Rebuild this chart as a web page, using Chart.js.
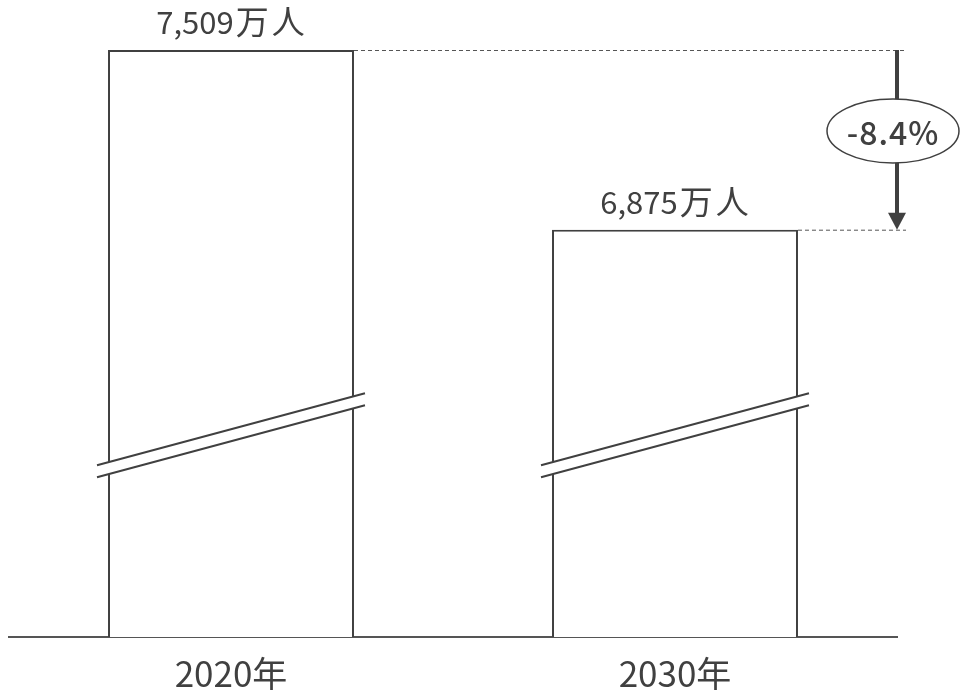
<!DOCTYPE html>
<html>
<head>
<meta charset="utf-8">
<script src="https://cdn.jsdelivr.net/npm/chart.js@4/dist/chart.umd.min.js"></script>
<style>
  html, body { margin: 0; padding: 0; background: #fff; }
  #wrap { width: 964px; height: 693px; }
</style>
</head>
<body>
<div id="wrap"><canvas id="chart"></canvas></div>
<script>
// data
var years = ["2020年", "2030年"];
var population = [7509, 6875]; // 万人
var valueLabels = ["7,509", "6,875"];
var unit = "万人";

var axisMin = 5438;   // broken axis, bars don't start at 0
var breakAt = 6171;   // where the break mark sits on the axis

var ink = "#404040";
var font = "'Noto Sans CJK JP', 'Noto Sans', sans-serif";

// draws labels, broken-axis marks, dashed guides, arrow and the change bubble
var decorations = {
  id: "decorations",
  afterDatasetsDraw: function(chart) {
    var ctx = chart.ctx;
    var area = chart.chartArea;
    var yScale = chart.scales.y;
    var xScale = chart.scales.x;
    var bars = chart.getDatasetMeta(0).data;
    ctx.save();

    // value labels over the bars (number + unit, unit set a bit wider)
    ctx.fillStyle = ink;
    ctx.textBaseline = "alphabetic";
    ctx.textAlign = "left";
    for (var i = 0; i < bars.length; i++) {
      ctx.font = "31px " + font;
      ctx.letterSpacing = "0px";
      var wNum = ctx.measureText(valueLabels[i]).width;
      ctx.font = "33px " + font;
      ctx.letterSpacing = "3px";
      var wUnit = ctx.measureText(unit).width;
      var x0 = bars[i].x - (wNum + wUnit) / 2;
      var yText = bars[i].y - 16;
      ctx.font = "31px " + font;
      ctx.letterSpacing = "0px";
      ctx.fillText(valueLabels[i], x0, yText);
      ctx.font = "33px " + font;
      ctx.letterSpacing = "3px";
      ctx.fillText(unit, x0 + wNum + 2, yText);
    }
    ctx.letterSpacing = "0px";

    // category labels under the axis
    ctx.font = "35px " + font;
    ctx.textAlign = "center";
    for (var i = 0; i < years.length; i++) {
      ctx.fillText(years[i], xScale.getPixelForValue(i), area.bottom + 50);
    }

    // break marks
    var yb = yScale.getPixelForValue(breakAt);
    for (var i = 0; i < bars.length; i++) {
      var b = bars[i];
      var half = b.width / 2 + 11;
      var rise = 36;
      var gap = 12;
      ctx.fillStyle = "#fff";
      ctx.beginPath();
      ctx.moveTo(b.x - half, yb + rise);
      ctx.lineTo(b.x + half, yb - rise);
      ctx.lineTo(b.x + half, yb - rise + gap);
      ctx.lineTo(b.x - half, yb + rise + gap);
      ctx.closePath();
      ctx.fill();
      ctx.strokeStyle = ink;
      ctx.lineWidth = 2;
      ctx.beginPath();
      ctx.moveTo(b.x - half, yb + rise);
      ctx.lineTo(b.x + half, yb - rise);
      ctx.moveTo(b.x - half, yb + rise + gap);
      ctx.lineTo(b.x + half, yb - rise + gap);
      ctx.stroke();
    }

    // dashed guides from bar tops
    var ax = area.right;
    ctx.strokeStyle = "#555";
    ctx.lineWidth = 1;
    ctx.setLineDash([4, 3]);
    for (var i = 0; i < bars.length; i++) {
      ctx.beginPath();
      ctx.moveTo(bars[i].x + bars[i].width / 2, bars[i].y + 0.5);
      ctx.lineTo(ax + 9, bars[i].y + 0.5);
      ctx.stroke();
    }
    ctx.setLineDash([]);

    // arrow
    var y1 = bars[0].y, y2 = bars[1].y;
    ctx.strokeStyle = ink;
    ctx.lineWidth = 4;
    ctx.beginPath();
    ctx.moveTo(ax, y1);
    ctx.lineTo(ax, y2 - 15);
    ctx.stroke();
    ctx.fillStyle = ink;
    ctx.beginPath();
    ctx.moveTo(ax - 9, y2 - 17);
    ctx.lineTo(ax + 9, y2 - 17);
    ctx.lineTo(ax, y2);
    ctx.closePath();
    ctx.fill();

    // change bubble
    var change = (population[1] - population[0]) / population[0] * 100;
    var cx = ax - 4, cy = 131;
    ctx.fillStyle = "#fff";
    ctx.strokeStyle = ink;
    ctx.lineWidth = 1.5;
    ctx.beginPath();
    ctx.ellipse(cx, cy, 66, 32, 0, 0, Math.PI * 2);
    ctx.fill();
    ctx.stroke();
    ctx.fillStyle = ink;
    ctx.font = "500 32px " + font;
    ctx.letterSpacing = "1px";
    ctx.textAlign = "center";
    ctx.textBaseline = "alphabetic";
    ctx.fillText(change.toFixed(1) + "%", cx, cy + 14);

    ctx.restore();
  }
};

new Chart(document.getElementById("chart"), {
  type: "bar",
  data: {
    labels: years,
    datasets: [{
      data: population,
      backgroundColor: "#fff",
      borderColor: ink,
      borderWidth: 2,
      borderSkipped: false,
      barPercentage: 0.554,
      categoryPercentage: 1
    }]
  },
  options: {
    responsive: true,
    maintainAspectRatio: false,
    animation: false,
    layout: { padding: { top: 50, bottom: 56, left: 9, right: 67 } },
    plugins: {
      legend: { display: false },
      tooltip: { enabled: false }
    },
    scales: {
      x: {
        grid: { display: false, drawTicks: false },
        border: { display: true, color: "#555", width: 2 },
        ticks: { display: false }
      },
      y: {
        display: false,
        min: axisMin,
        max: population[0]
      }
    }
  },
  plugins: [decorations]
});
</script>
</body>
</html>
